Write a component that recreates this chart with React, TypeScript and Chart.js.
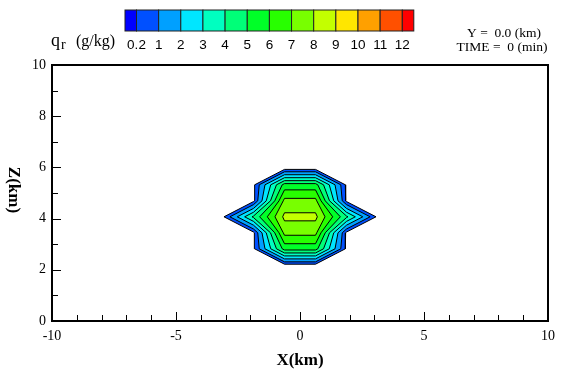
import React, { useEffect, useRef } from 'react';
import { Chart, registerables } from 'chart.js';

Chart.register(...registerables);

// Grid node positions (km)
const xNodes = [-4.375, -3.125, -1.875, -0.625, 0.625, 1.875, 3.125, 4.375];
const zNodes = [1.57, 2.195, 2.82, 3.445, 4.07, 4.695, 5.32, 5.945, 6.57];

// qr (g/kg) at grid nodes, one row per z node (bottom to top)
const qrRow0 = [0, 0, 0, 0, 0, 0, 0, 0];
const qrRow1 = [0, 0, 0, 0, 0, 0, 0, 0];
const qrRow2 = [0, 0, 0, 5.4, 5.4, 0, 0, 0];
const qrRow3 = [0, 0, 0, 7.29, 7.29, 0, 0, 0];
const qrRow4 = [0, 0, 4.2, 8.24, 8.24, 4.2, 0, 0];
const qrRow5 = [0, 0, 0, 7.29, 7.29, 0, 0, 0];
const qrRow6 = [0, 0, 0, 5.4, 5.4, 0, 0, 0];
const qrRow7 = [0, 0, 0, 0, 0, 0, 0, 0];
const qrRow8 = [0, 0, 0, 0, 0, 0, 0, 0];
const qrGrid = [qrRow0, qrRow1, qrRow2, qrRow3, qrRow4, qrRow5, qrRow6, qrRow7, qrRow8];

// Contour levels and colour bands (band k+1 lies above level k)
const contourLevels = [0.2, 1, 2, 3, 4, 5, 6, 7, 8, 9, 10, 11, 12];
const levelLabels = ['0.2', '1', '2', '3', '4', '5', '6', '7', '8', '9', '10', '11', '12'];
const bandColors = [
  '#0000ff', '#0050ff', '#00a0ff', '#00e6ff', '#00ffc0', '#00ff78', '#00ff28',
  '#28ff00', '#78ff00', '#c3ff00', '#ffe600', '#ffa000', '#ff5000', '#ff0000',
];

// Axis ticks
const xMajorTicks = [-10, -5, 0, 5, 10];
const xMinorTicks = [-9, -8, -7, -6, -4, -3, -2, -1, 1, 2, 3, 4, 6, 7, 8, 9];
const yMajorTicks = [0, 2, 4, 6, 8, 10];
const yMinorTicks = [1, 3, 5, 7, 9];

type P = { x: number; y: number };

function contourLoops(grid: number[][], xs: number[], zs: number[], L: number): P[][] {
  const adj = new Map<string, string[]>();
  const pts = new Map<string, P>();
  const key = (p: P) => p.x.toFixed(6) + ',' + p.y.toFixed(6);
  const add = (a: P, b: P) => {
    const ka = key(a), kb = key(b);
    pts.set(ka, a); pts.set(kb, b);
    if (!adj.has(ka)) adj.set(ka, []);
    if (!adj.has(kb)) adj.set(kb, []);
    adj.get(ka)!.push(kb);
    adj.get(kb)!.push(ka);
  };
  for (let j = 0; j < zs.length - 1; j++) {
    for (let i = 0; i < xs.length - 1; i++) {
      const c = [
        { x: xs[i], y: zs[j], v: grid[j][i] },
        { x: xs[i + 1], y: zs[j], v: grid[j][i + 1] },
        { x: xs[i + 1], y: zs[j + 1], v: grid[j + 1][i + 1] },
        { x: xs[i], y: zs[j + 1], v: grid[j + 1][i] },
      ];
      const cross: (P | null)[] = [null, null, null, null];
      let n = 0;
      for (let e = 0; e < 4; e++) {
        let a = c[e], b = c[(e + 1) % 4];
        if ((a.v >= L) !== (b.v >= L)) {
          if (a.x > b.x || (a.x === b.x && a.y > b.y)) { const t = a; a = b; b = t; }
          const t = (L - a.v) / (b.v - a.v);
          cross[e] = { x: a.x + t * (b.x - a.x), y: a.y + t * (b.y - a.y) };
          n++;
        }
      }
      if (n === 2) {
        const ps = cross.filter((p) => p) as P[];
        add(ps[0], ps[1]);
      } else if (n === 4) {
        const mid = (c[0].v + c[1].v + c[2].v + c[3].v) / 4;
        if ((c[0].v >= L) === (mid >= L)) {
          add(cross[0]!, cross[1]!); add(cross[2]!, cross[3]!);
        } else {
          add(cross[3]!, cross[0]!); add(cross[1]!, cross[2]!);
        }
      }
    }
  }
  const visited = new Set<string>();
  const loops: P[][] = [];
  for (const start of adj.keys()) {
    if (visited.has(start)) continue;
    const loop: P[] = [];
    let cur: string | undefined = start;
    while (cur && !visited.has(cur)) {
      visited.add(cur);
      loop.push(pts.get(cur)!);
      cur = adj.get(cur)!.find((k) => !visited.has(k));
    }
    loop.push(loop[0]);
    loops.push(loop);
  }
  return loops;
}

const serif = '"Liberation Serif", "Times New Roman", serif';
const sans = '"Liberation Sans", Arial, sans-serif';

const decorations = {
  id: 'decorations',
  afterDraw(chart: any) {
    const ctx: CanvasRenderingContext2D = chart.ctx;
    const { left, right, top, bottom } = chart.chartArea;
    const xs = chart.scales.x;
    const ys = chart.scales.y;
    ctx.save();
    ctx.strokeStyle = '#000';
    ctx.fillStyle = '#000';
    ctx.lineWidth = 1;
    const seg = (x1: number, y1: number, x2: number, y2: number) => {
      ctx.beginPath(); ctx.moveTo(x1, y1); ctx.lineTo(x2, y2); ctx.stroke();
    };
    for (const v of xMajorTicks) { const p = Math.round(xs.getPixelForValue(v)) + 0.5; seg(p, bottom, p, bottom - 9); }
    for (const v of xMinorTicks) { const p = Math.round(xs.getPixelForValue(v)) + 0.5; seg(p, bottom, p, bottom - 6); }
    for (const v of yMajorTicks) { const p = Math.round(ys.getPixelForValue(v)) + 0.5; seg(left, p, left + 9, p); }
    for (const v of yMinorTicks) { const p = Math.round(ys.getPixelForValue(v)) + 0.5; seg(left, p, left + 6, p); }
    ctx.lineWidth = 2;
    ctx.strokeRect(left, top, right - left, bottom - top);

    // axis titles
    ctx.font = 'bold 17px ' + serif;
    ctx.textAlign = 'center';
    ctx.textBaseline = 'alphabetic';
    ctx.fillText('X(km)', (left + right) / 2, 365);
    ctx.save();
    ctx.translate(13, 190);
    ctx.rotate(Math.PI / 2);
    ctx.textBaseline = 'middle';
    ctx.fillText('Z(km)', 0, 0);
    ctx.restore();

    // colour legend
    const barLeft = 125, barTop = 10, barH = 21, endW = 11.5, cellW = 22.15;
    let x = barLeft;
    const bounds: number[] = [];
    ctx.lineWidth = 1;
    bandColors.forEach((col, k) => {
      const w = k === 0 || k === bandColors.length - 1 ? endW : cellW;
      ctx.fillStyle = col;
      ctx.fillRect(x, barTop, w, barH);
      ctx.strokeStyle = '#222';
      ctx.strokeRect(x, barTop, w, barH);
      x += w;
      if (k < bandColors.length - 1) bounds.push(x);
    });
    ctx.fillStyle = '#000';
    ctx.font = '13.5px ' + sans;
    ctx.textAlign = 'center';
    levelLabels.forEach((t, k) => ctx.fillText(t, bounds[k], 49));

    ctx.textAlign = 'left';
    ctx.font = '18px ' + serif;
    ctx.fillText('q', 51, 46);
    ctx.font = '14px ' + serif;
    ctx.fillText('r', 61, 49);
    ctx.font = '16px ' + serif;
    ctx.fillText('(g/kg)', 76, 46);

    ctx.font = '13.5px ' + serif;
    ctx.textAlign = 'center';
    ctx.fillText('Y =  0.0 (km)', 504, 37);
    ctx.fillText('TIME =  0 (min)', 502, 51);
    ctx.restore();
  },
};

export default function App() {
  const ref = useRef<HTMLCanvasElement>(null);
  useEffect(() => {
    const datasets: any[] = [];
    contourLevels.forEach((L, k) => {
      contourLoops(qrGrid, xNodes, zNodes, L).forEach((loop) => {
        datasets.push({
          data: loop,
          backgroundColor: bandColors[k + 1],
          borderColor: '#000',
          borderWidth: 1,
          fill: 'shape',
          pointRadius: 0,
          tension: 0,
        });
      });
    });
    datasets.reverse();
    const chart = new Chart(ref.current!, {
      type: 'line',
      data: { datasets },
      options: {
        responsive: false,
        animation: false,
        events: [],
        layout: { padding: { left: 0, right: 9, top: 65, bottom: 0 } },
        plugins: { legend: { display: false }, tooltip: { enabled: false } },
        scales: {
          x: {
            type: 'linear', min: -10, max: 10,
            afterFit: (s: any) => { s.height = 51; },
            grid: { display: false, drawTicks: false },
            border: { display: false },
            ticks: { stepSize: 5, padding: 7, color: '#000', font: { family: serif, size: 14 } },
          },
          y: {
            type: 'linear', min: 0, max: 10,
            afterFit: (s: any) => { s.width = 52; },
            grid: { display: false, drawTicks: false },
            border: { display: false },
            ticks: { stepSize: 2, padding: 6, color: '#000', font: { family: serif, size: 14 } },
          },
        },
      },
      plugins: [decorations],
    });
    return () => chart.destroy();
  }, []);
  return (
    <div style={{ position: 'fixed', left: 0, top: 0, width: 562, height: 372, background: '#fff' }}>
      <canvas ref={ref} width={562} height={372} style={{ display: 'block' }} />
    </div>
  );
}
